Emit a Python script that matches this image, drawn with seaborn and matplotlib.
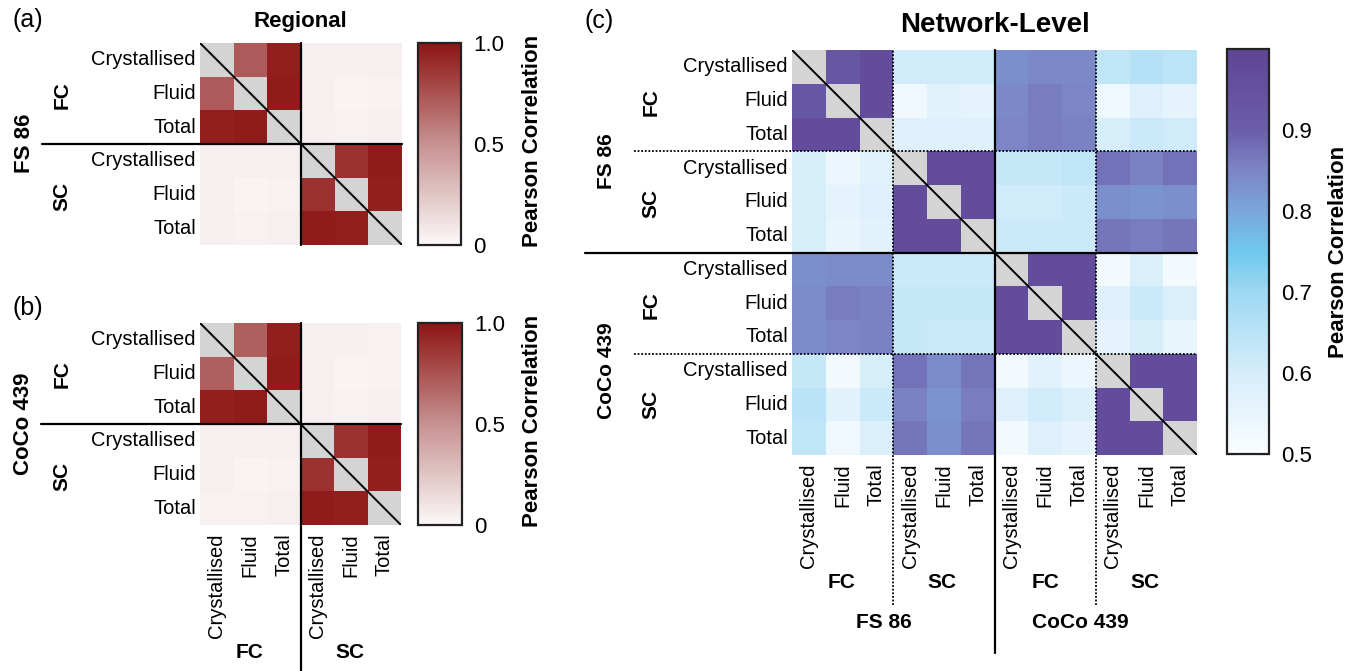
import numpy as np
import pandas as pd
import seaborn as sns
import matplotlib.pyplot as plt
from matplotlib.colors import LinearSegmentedColormap

# etiquetas
measures = ['Crystallised', 'Fluid', 'Total']
regional_labels = measures * 2
network_labels = measures * 4

# correlaciones regionales (diagonal enmascarada)
fs86_regional = [
    [1.00, 0.72, 0.96, 0.05, 0.05, 0.05],
    [0.72, 1.00, 0.97, 0.05, 0.03, 0.04],
    [0.96, 0.97, 1.00, 0.05, 0.04, 0.05],
    [0.05, 0.05, 0.05, 1.00, 0.88, 0.97],
    [0.05, 0.03, 0.04, 0.88, 1.00, 0.96],
    [0.05, 0.04, 0.05, 0.97, 0.96, 1.00],
]
coco439_regional = [
    [1.00, 0.70, 0.96, 0.05, 0.05, 0.04],
    [0.70, 1.00, 0.97, 0.05, 0.03, 0.04],
    [0.96, 0.97, 1.00, 0.05, 0.04, 0.05],
    [0.05, 0.05, 0.05, 1.00, 0.88, 0.97],
    [0.05, 0.03, 0.04, 0.88, 1.00, 0.96],
    [0.04, 0.04, 0.05, 0.97, 0.96, 1.00],
]

# correlaciones a nivel de red (FS86 FC, FS86 SC, CoCo FC, CoCo SC)
network = [
    [1.00, 0.93, 0.97, 0.61, 0.61, 0.61, 0.835, 0.845, 0.845, 0.64, 0.66, 0.645],
    [0.93, 1.00, 0.97, 0.53, 0.57, 0.56, 0.845, 0.86, 0.85, 0.53, 0.58, 0.56],
    [0.97, 0.97, 1.00, 0.58, 0.58, 0.58, 0.85, 0.86, 0.855, 0.60, 0.62, 0.61],
    [0.60, 0.54, 0.57, 1.00, 0.97, 0.97, 0.63, 0.63, 0.64, 0.875, 0.855, 0.875],
    [0.60, 0.56, 0.58, 0.97, 1.00, 0.97, 0.61, 0.61, 0.62, 0.835, 0.83, 0.835],
    [0.60, 0.55, 0.57, 0.97, 0.97, 1.00, 0.62, 0.62, 0.62, 0.87, 0.86, 0.87],
    [0.835, 0.84, 0.84, 0.62, 0.62, 0.62, 1.00, 0.97, 0.97, 0.52, 0.59, 0.52],
    [0.84, 0.86, 0.855, 0.63, 0.63, 0.63, 0.97, 1.00, 0.97, 0.58, 0.62, 0.59],
    [0.84, 0.85, 0.855, 0.63, 0.62, 0.62, 0.97, 0.97, 1.00, 0.56, 0.60, 0.55],
    [0.63, 0.52, 0.60, 0.875, 0.84, 0.87, 0.52, 0.57, 0.54, 1.00, 0.97, 0.97],
    [0.65, 0.57, 0.62, 0.855, 0.83, 0.86, 0.58, 0.61, 0.59, 0.97, 1.00, 0.97],
    [0.64, 0.53, 0.59, 0.87, 0.835, 0.87, 0.52, 0.58, 0.56, 0.97, 0.97, 1.00],
]

# mapas de color
reds = LinearSegmentedColormap.from_list(
    'reds', [(0, '#fcf9f9'), (0.5, '#c79191'), (1, '#8e1414')])
blues = LinearSegmentedColormap.from_list(
    'blues', [(0, '#fafdff'), (0.2, '#d6edfa'), (0.4, '#9dd8f3'),
              (0.5, '#6fc9ee'), (0.6, '#7aa6db'), (0.7, '#7c86c6'),
              (0.8, '#6b5ea9'), (1, '#5f4496')])

sns.set_style('white')
plt.rcParams['font.family'] = ['Liberation Sans', 'DejaVu Sans']
plt.rcParams['text.color'] = 'black'
plt.rcParams['xtick.color'] = 'black'
plt.rcParams['ytick.color'] = 'black'
plt.rcParams['axes.labelcolor'] = 'black'

W, H = 1360, 671
fig = plt.figure(figsize=(13.6, 6.71), dpi=100)


def rect(x0, y0, x1, y1):
    return [x0 / W, 1 - y1 / H, (x1 - x0) / W, (y1 - y0) / H]


def label(x, y, s, size=15, bold=True, rot=0):
    fig.text(x / W, 1 - y / H, s, fontsize=size, rotation=rot, color='black',
             fontweight='bold' if bold else 'normal', ha='center', va='center')


def panel(ax, cax, data, cmap, vmin, vmax, ylabels, xlabels):
    n = len(data)
    df = pd.DataFrame(data)
    sns.heatmap(df, mask=np.eye(n, dtype=bool), cmap=cmap, vmin=vmin, vmax=vmax,
                ax=ax, cbar_ax=cax, xticklabels=xlabels if xlabels else False,
                yticklabels=ylabels)
    ax.set_facecolor('#d4d4d4')
    ax.set_yticklabels(ylabels, rotation=0, fontsize=14.5, color='black')
    if xlabels:
        ax.set_xticklabels(xlabels, rotation=90, fontsize=14.5, color='black')
    ax.tick_params(length=0, pad=3)
    ax.tick_params(axis='x', pad=6)
    ax.plot([0, n], [0, n], color='black', lw=1.4)
    cb = ax.collections[0].colorbar
    cb.outline.set_linewidth(1.6)
    cb.outline.set_edgecolor('#222222')
    cax.tick_params(direction='in', left=True, right=True, length=7, width=1.5,
                    labelsize=16, pad=9, color='#222222', labelcolor='black')
    return cb


# (a) regional FS 86
ax_a = fig.add_axes(rect(200, 43, 402, 245))
cax_a = fig.add_axes(rect(418, 43, 461, 245))
cb = panel(ax_a, cax_a, fs86_regional, reds, 0, 1, regional_labels, None)
cb.set_ticks([0, 0.5, 1.0])
cb.set_ticklabels(['0', '0.5', '1.0'])
ax_a.plot([-0.78, 1], [3, 3], transform=ax_a.get_yaxis_transform(),
          color='black', lw=1.6, clip_on=False)
ax_a.plot([3, 3], [0, 1], transform=ax_a.get_xaxis_transform(),
          color='black', lw=1.6, clip_on=False)

# (b) regional CoCo 439
ax_b = fig.add_axes(rect(200, 323, 401, 525))
cax_b = fig.add_axes(rect(418, 323, 462, 525))
cb = panel(ax_b, cax_b, coco439_regional, reds, 0, 1, regional_labels, regional_labels)
cb.set_ticks([0, 0.5, 1.0])
cb.set_ticklabels(['0', '0.5', '1.0'])
ax_b.plot([-0.79, 1], [3, 3], transform=ax_b.get_yaxis_transform(),
          color='black', lw=1.6, clip_on=False)
ax_b.plot([3, 3], [-0.73, 1], transform=ax_b.get_xaxis_transform(),
          color='black', lw=1.6, clip_on=False)

# (c) network-level
ax_c = fig.add_axes(rect(792, 50, 1197, 455))
cax_c = fig.add_axes(rect(1227, 49, 1269, 454))
cb = panel(ax_c, cax_c, network, blues, 0.5, 1.0, network_labels, network_labels)
cb.set_ticks([0.5, 0.6, 0.7, 0.8, 0.9])
cb.set_ticklabels(['0.5', '0.6', '0.7', '0.8', '0.9'])
ax_c.plot([-0.51, 1], [6, 6], transform=ax_c.get_yaxis_transform(),
          color='black', lw=1.6, clip_on=False)
ax_c.plot([6, 6], [-0.49, 1], transform=ax_c.get_xaxis_transform(),
          color='black', lw=1.6, clip_on=False)
for k in [3, 9]:
    ax_c.plot([-0.39, 1], [k, k], transform=ax_c.get_yaxis_transform(),
              color='black', lw=1.3, ls=(0, (1, 1)), clip_on=False)
    ax_c.plot([k, k], [-0.37, 1], transform=ax_c.get_xaxis_transform(),
              color='black', lw=1.3, ls=(0, (1, 1)), clip_on=False)

# textos
label(28, 20, '(a)', size=18, bold=False)
label(28, 308, '(b)', size=18, bold=False)
label(599, 21, '(c)', size=18, bold=False)
label(300, 21, 'Regional', size=16)
label(995, 25, 'Network-Level', size=20)

label(24, 143, 'FS 86', size=16, rot=90)
label(62, 95, 'FC', rot=90)
label(62, 196, 'SC', rot=90)
label(24, 424, 'CoCo 439', size=16, rot=90)
label(62, 374, 'FC', rot=90)
label(62, 476, 'SC', rot=90)
label(250, 653, 'FC')
label(350, 653, 'SC')

label(533, 141, 'Pearson Correlation', size=16, rot=90)
label(533, 421, 'Pearson Correlation', size=16, rot=90)
label(1338, 252, 'Pearson Correlation', size=16, rot=90)

label(606, 161, 'FS 86', rot=90)
label(651, 102, 'FC', rot=90)
label(651, 203, 'SC', rot=90)
label(606, 371, 'CoCo 439', rot=90)
label(651, 305, 'FC', rot=90)
label(651, 404, 'SC', rot=90)
label(842, 582, 'FC')
label(942, 582, 'SC')
label(1046, 582, 'FC')
label(1145, 582, 'SC')
label(884, 623, 'FS 86')
label(1080, 623, 'CoCo 439')

fig.savefig('out.png', dpi=100, facecolor='white')
